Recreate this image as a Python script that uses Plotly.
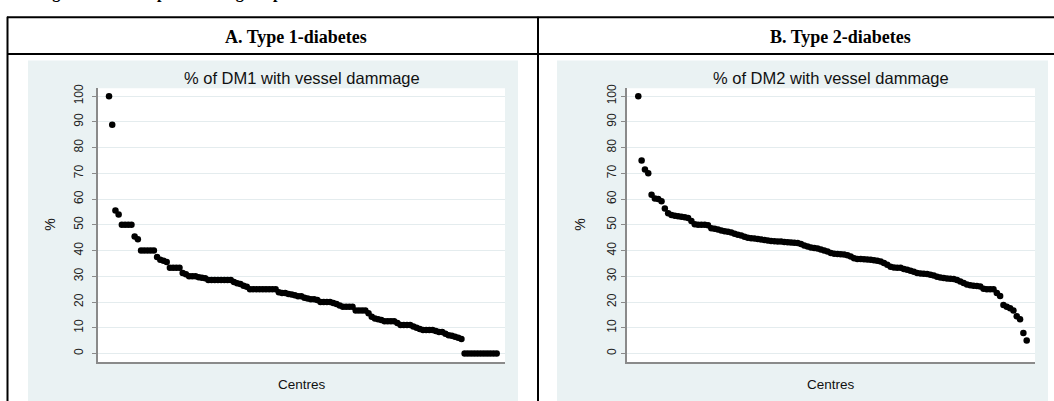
import plotly.graph_objects as go

# ---------------- data ----------------
dm1_pct = [100, 88.9, 55.6, 54.0, 50, 50, 50, 50, 45.5, 44.4,
           40, 40, 40, 40, 40, 37.5, 36.4, 36.0, 35.5, 33.3,
           33.3, 33.3, 33.3, 31.3, 30.8, 30, 30, 30, 29.6, 29.4,
           29.2, 28.6, 28.6, 28.6, 28.6, 28.6, 28.6, 28.6, 28.6, 27.8,
           27.3, 27.0, 26.3, 25.9, 25, 25, 25, 25, 25, 25,
           25, 25, 25, 23.8, 23.5, 23.5, 23.1, 22.9, 22.6, 22.2,
           22.2, 21.7, 21.4, 21.1, 21.1, 20.8, 20, 20, 20, 20,
           19.6, 19.2, 18.6, 18.2, 18.2, 18.2, 18.2, 16.7, 16.7, 16.7,
           16.7, 15.6, 14.3, 13.6, 13.3, 13.0, 12.5, 12.5, 12.5, 12.5,
           11.8, 11.1, 11.1, 11.1, 11.1, 10.5, 10.0, 9.5, 9.1, 9.1,
           9.1, 9.1, 8.7, 8.3, 8.3, 7.7, 7.1, 6.9, 6.5, 6.1,
           5.6, 0, 0, 0, 0, 0, 0, 0, 0, 0,
           0, 0]

dm2_pct = [100, 75, 71.5, 70, 61.7, 60.2, 60, 59.2, 56.3, 54.5,
           53.8, 53.5, 53.3, 53.1, 52.9, 52.6, 51.5, 50.2, 50, 50,
           50, 49.8, 48.7, 48.5, 48.2, 47.8, 47.5, 47.3, 47.0, 46.5,
           46.1, 45.8, 45.4, 45.0, 44.8, 44.7, 44.5, 44.3, 44.1, 43.9,
           43.7, 43.6, 43.5, 43.5, 43.3, 43.2, 43.1, 43.0, 42.9, 42.5,
           42.0, 41.6, 41.2, 41.0, 40.8, 40.4, 40.0, 39.6, 39.0, 38.8,
           38.7, 38.6, 38.5, 38.2, 37.7, 37.0, 36.7, 36.7, 36.6, 36.5,
           36.4, 36.2, 36.0, 35.7, 35.2, 34.5, 33.7, 33.4, 33.3, 33.3,
           32.8, 32.5, 32.1, 31.8, 31.3, 31.1, 31.0, 30.9, 30.6, 30.3,
           29.8, 29.5, 29.3, 29.1, 29.0, 28.9, 28.6, 28.0, 27.4, 26.8,
           26.5, 26.3, 26.2, 26.0, 25.2, 25.0, 25.0, 25.0, 23.5, 22.3,
           18.8, 18.2, 17.6, 16.7, 14.5, 13.3, 8.0, 5.0]

centres_dm1 = list(range(1, len(dm1_pct) + 1))
centres_dm2 = list(range(1, len(dm2_pct) + 1))

y_ticks = [0, 10, 20, 30, 40, 50, 60, 70, 80, 90, 100]

caption = "Figure 3: Scatter plot showing the prevalence of vessel lesions in the centres"
panel_headers = ["A. Type 1-diabetes", "B. Type 2-diabetes"]
panel_titles = ["% of DM1 with vessel dammage", "% of DM2 with vessel dammage"]
y_title = "%"
x_title = "Centres"

# ---------------- layout helpers ----------------
W, H = 1054, 401
def fx(px):
    return px / W
def fy(py):
    return 1 - py / H

SANS = "Liberation Sans, Arial, sans-serif"
SERIF = "Liberation Serif, Times New Roman, serif"
REGION = "#EAF2F3"
AXIS = "#8a8a8a"
GRID = "#E4ECEE"

fig = go.Figure()
fig.add_trace(go.Scatter(x=centres_dm1, y=dm1_pct, mode="markers",
                         marker=dict(color="black", size=6.5),
                         xaxis="x", yaxis="y", hoverinfo="skip"))
fig.add_trace(go.Scatter(x=centres_dm2, y=dm2_pct, mode="markers",
                         marker=dict(color="black", size=6.5),
                         xaxis="x2", yaxis="y2", hoverinfo="skip"))

yr = [-3.46, 103.1]
xa_common = dict(showline=True, linecolor=AXIS, linewidth=1.5, showticklabels=False,
                 ticks="", showgrid=False, zeroline=False, fixedrange=True)
ya_common = dict(range=yr, tickvals=y_ticks, ticks="outside", ticklen=4, tickwidth=1,
                 tickcolor=AXIS, tickangle=-90, tickfont=dict(family=SANS, size=12, color="#222"),
                 showgrid=True, gridcolor=GRID, gridwidth=1, zeroline=False,
                 showline=True, linecolor=AXIS, linewidth=1.5, fixedrange=True)

fig.update_layout(
    width=W, height=H, margin=dict(l=0, r=0, t=0, b=0),
    paper_bgcolor="white", plot_bgcolor="white", showlegend=False,
    xaxis=dict(domain=[fx(98), fx(505)], range=[-2.44, 124.6], anchor="y", **xa_common),
    yaxis=dict(domain=[fy(362), fy(85)], anchor="x", ticklabelstandoff=4, **ya_common),
    xaxis2=dict(domain=[fx(627), fx(1035)], range=[-2.4, 120.5], anchor="y2", **xa_common),
    yaxis2=dict(domain=[fy(362), fy(85)], anchor="x2", ticklabelstandoff=0, **ya_common),
)

shapes = []
# Stata graph regions
for x0, x1 in [(28, 518), (557, 1048)]:
    shapes.append(dict(type="rect", xref="paper", yref="paper", x0=fx(x0), x1=fx(x1),
                       y0=fy(405), y1=fy(57), fillcolor=REGION, line=dict(width=0), layer="below"))
for x0, x1 in [(98, 505), (627, 1035)]:
    shapes.append(dict(type="rect", xref="paper", yref="paper", x0=fx(x0), x1=fx(x1),
                       y0=fy(362), y1=fy(85), fillcolor="white", line=dict(width=0), layer="below"))
# table borders
for (x0, y0, x1, y1) in [(7, 13.5, 1060, 13.5), (7, 50.5, 1060, 50.5),
                         (7.5, 13, 7.5, 410), (538, 13, 538, 410)]:
    shapes.append(dict(type="line", xref="paper", yref="paper", x0=fx(x0), x1=fx(x1),
                       y0=fy(y0), y1=fy(y1), line=dict(color="black", width=2), layer="above"))
fig.update_layout(shapes=shapes)

ann = []
ann.append(dict(text="<b>" + caption + "</b>", x=fx(36), y=fy(0), xanchor="left", yanchor="bottom",
                font=dict(family=SERIF, size=16, color="black")))
for txt, cx in zip(panel_headers, [296, 840]):
    ann.append(dict(text="<b>" + txt + "</b>", x=fx(cx), y=fy(33), xanchor="center", yanchor="middle",
                    font=dict(family=SERIF, size=18, color="black")))
for txt, cx in zip(panel_titles, [302, 831]):
    ann.append(dict(text=txt, x=fx(cx), y=fy(75), xanchor="center", yanchor="middle",
                    font=dict(family=SANS, size=16.5, color="#111")))
for cx in [50, 580]:
    ann.append(dict(text=y_title, x=fx(cx), y=fy(223), xanchor="center", yanchor="middle",
                    textangle=-90, font=dict(family=SANS, size=14, color="#111")))
for cx in [302, 831]:
    ann.append(dict(text=x_title, x=fx(cx), y=fy(384), xanchor="center", yanchor="middle",
                    font=dict(family=SANS, size=13.5, color="#111")))
for a in ann:
    a.update(xref="paper", yref="paper", showarrow=False)
fig.update_layout(annotations=ann)

fig.write_html("out.html")
